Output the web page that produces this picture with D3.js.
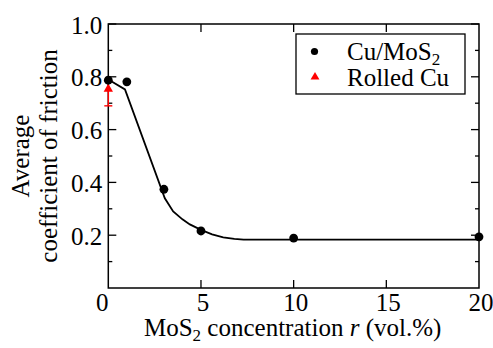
<!DOCTYPE html>
<html><head><meta charset="utf-8">
<script src="https://cdn.jsdelivr.net/npm/d3@7"></script>
<style>body{margin:0;background:#fff}</style>
</head><body><svg id="c" width="493" height="348"></svg>
<script>
// Data
const mosX = [0, 1, 3, 5, 10, 20];
const mosY = [0.787, 0.781, 0.374, 0.216, 0.189, 0.194];
const rolledX = [0];
const rolledY = [0.754];
const rolledLow = [0.690];
const rolledHigh = [0.785];
const fitX = [0, 0.9, 3.05, 3.5, 4.0, 4.4, 5.0, 5.6, 6.2, 6.8, 7.3, 20];
const fitY = [0.79, 0.752, 0.34, 0.29, 0.26, 0.241, 0.22, 0.203, 0.192, 0.186, 0.183, 0.183];
const xTicks = [0, 5, 10, 15, 20];
const yTicks = [0.2, 0.4, 0.6, 0.8, 1.0];
const yMinor = [0.1, 0.3, 0.5, 0.7, 0.9];
const yTickLabels = ["0.2", "0.4", "0.6", "0.8", "1.0"];
const legendLabels = ["Cu/MoS", "Rolled Cu"];

const svg = d3.select("#c");
const L = 108.3, R = 479, T = 24, B = 288;
const x = d3.scaleLinear().domain([0, 20]).range([L, R]);
const y = d3.scaleLinear().domain([0, 1]).range([B, T]);
const S = 25 / 22; // render serif at 22px, scale up to 25px look
// text placed at (px,py) with optional rotation
const txt = (px, py, rot) => svg.append("text")
  .attr("transform", `translate(${px},${py})${rot ? ` rotate(${rot})` : ""} scale(${S})`)
  .attr("x", 0).attr("y", 0)
  .attr("font-size", 22).style("font-family", "'Liberation Serif'").attr("fill", "#000");

// ticks (inward)
const g = svg.append("g").attr("stroke", "#000").attr("stroke-width", 1.3);
yTicks.concat(yMinor).forEach(v => {
  const len = yMinor.includes(v) ? 4 : 8;
  g.append("line").attr("x1", L).attr("x2", L + len).attr("y1", y(v)).attr("y2", y(v));
  g.append("line").attr("x1", R).attr("x2", R - len).attr("y1", y(v)).attr("y2", y(v));
});
xTicks.slice(1, -1).forEach(v => {
  g.append("line").attr("x1", x(v)).attr("x2", x(v)).attr("y1", B).attr("y2", B - 8);
  g.append("line").attr("x1", x(v)).attr("x2", x(v)).attr("y1", T).attr("y2", T + 8);
});
// frame
svg.append("rect").attr("x", L).attr("y", T).attr("width", R - L).attr("height", B - T)
  .attr("fill", "none").attr("stroke", "#000").attr("stroke-width", 1.5);

// tick labels
yTicks.forEach((v, i) => {
  txt(L - 6, y(v) + 9.5).attr("text-anchor", "end").text(yTickLabels[i]);
});
xTicks.forEach(v => {
  txt(x(v) + (v === 0 ? -6 : 2), 310.5).attr("text-anchor", "middle").text(String(v));
});

// axis titles
const xt = txt((L + R) / 2 - 1, 336).attr("text-anchor", "middle");
xt.append("tspan").text("MoS");
xt.append("tspan").attr("font-size", 15).attr("dy", 4.4).text("2");
xt.append("tspan").attr("dy", -4.4).text(" concentration ");
xt.append("tspan").attr("font-style", "italic").text("r");
xt.append("tspan").text(" (vol.%)");

const yt = txt(0, (T + B) / 2, -90).attr("text-anchor", "middle");
yt.append("tspan").attr("x", 0).attr("y", 29 / S).text("Average");
yt.append("tspan").attr("x", 0).attr("y", 57 / S).text("coefficient of friction");

// fit line
const line = d3.line().x(d => x(d[0])).y(d => y(d[1]));
svg.append("path").datum(fitX.map((v, i) => [v, fitY[i]])).attr("d", line)
  .attr("fill", "none").attr("stroke", "#000").attr("stroke-width", 1.8);

// rolled Cu error bars + triangles
const tri = d3.symbol().type(d3.symbolTriangle).size(38);
rolledX.forEach((v, i) => {
  const eg = svg.append("g").attr("stroke", "#ff0000").attr("stroke-width", 1.4);
  eg.append("line").attr("x1", x(v)).attr("x2", x(v)).attr("y1", y(rolledLow[i])).attr("y2", y(rolledHigh[i]));
  [rolledLow[i], rolledHigh[i]].forEach(e => eg.append("line").attr("x1", x(v) - 4).attr("x2", x(v) + 4).attr("y1", y(e)).attr("y2", y(e)));
  svg.append("path").attr("d", tri).attr("transform", `translate(${x(v)},${y(rolledY[i])})`).attr("fill", "#ff0000");
});

// Cu/MoS2 points
svg.selectAll("circle.p").data(mosX.map((v, i) => [v, mosY[i]])).enter().append("circle")
  .attr("cx", d => x(d[0])).attr("cy", d => y(d[1])).attr("r", 4.4).attr("fill", "#000");

// legend
svg.append("rect").attr("x", 296).attr("y", 34).attr("width", 169).attr("height", 60)
  .attr("fill", "#fff").attr("stroke", "#000").attr("stroke-width", 1.3);
svg.append("circle").attr("cx", 314.5).attr("cy", 51.5).attr("r", 3.6).attr("fill", "#000");
svg.append("path").attr("d", d3.symbol().type(d3.symbolTriangle).size(34)).attr("transform", "translate(315,77)").attr("fill", "#ff0000");
const l1 = txt(347, 60);
l1.append("tspan").text(legendLabels[0]);
l1.append("tspan").attr("font-size", 15).attr("dy", 4.4).text("2");
txt(347, 85.5).text(legendLabels[1]);
</script></body></html>
